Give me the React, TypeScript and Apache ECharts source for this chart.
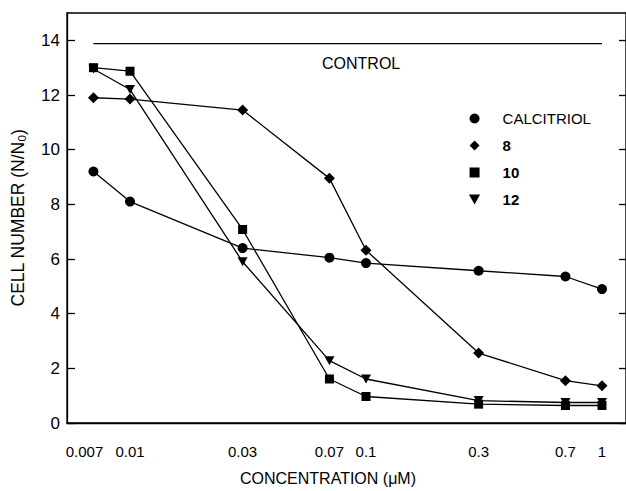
import React, { useEffect, useRef } from "react";
import * as echarts from "echarts";

const concentrations = [0.007, 0.01, 0.03, 0.07, 0.1, 0.3, 0.7, 1];
const xTickLabels = ["0.007", "0.01", "0.03", "0.07", "0.1", "0.3", "0.7", "1"];
const yTicks = [0, 2, 4, 6, 8, 10, 12, 14];
const calcitriol = [9.2, 8.1, 6.4, 6.05, 5.85, 5.57, 5.36, 4.9];
const compound8 = [11.9, 11.85, 11.45, 8.95, 6.32, 2.56, 1.55, 1.36];
const compound10 = [13.0, 12.87, 7.08, 1.61, 0.97, 0.69, 0.64, 0.64];
const compound12 = [12.95, 12.2, 5.9, 2.28, 1.61, 0.82, 0.75, 0.75];
const controlConc = [0.007, 1];
const controlLevel = [13.88, 13.88];

const FONT = "Liberation Sans, Arial, Helvetica, sans-serif";
const TRI_DOWN = "path://M0,0 L10,0 L5,9 Z";
const DIAMOND = "path://M5,0 L10,5 L5,10 L0,5 Z";
const SQUARE = "path://M0,0 L10,0 L10,10 L0,10 Z";

const toPts = (xs: number[], ys: number[]) => xs.map((c, i) => [Math.log10(c), ys[i]]);

export default function App() {
  const ref = useRef<HTMLDivElement>(null);
  useEffect(() => {
    if (!ref.current) return;
    const chart = echarts.init(ref.current, undefined, { renderer: "svg" });
    const lineStyle = { color: "#000", width: 1.3 };
    const mkSeries = (name: string, ys: number[], symbol: string, size: number | number[]) => ({
      name,
      type: "line",
      data: toPts(concentrations, ys),
      symbol,
      symbolSize: size,
      showSymbol: true,
      lineStyle,
      itemStyle: { color: "#000", borderWidth: 0 },
      z: 3,
    });
    const xLogTicks = concentrations.map((c) => Math.log10(c));
    chart.setOption({
      animation: false,
      backgroundColor: "#fff",
      textStyle: { fontFamily: FONT, color: "#000" },
      grid: {
        left: 67,
        right: 0,
        top: 13,
        bottom: 67,
        show: true,
        borderColor: "#000",
        borderWidth: 1.3,
        backgroundColor: "transparent",
      },
      xAxis: {
        type: "value",
        min: -2.267,
        max: 0.1017,
        name: "CONCENTRATION (μM)",
        nameLocation: "middle",
        nameGap: 47,
        nameTextStyle: { fontFamily: FONT, fontSize: 16, color: "#000", padding: [0, 37, 0, 0] },
        axisLine: { show: true, onZero: false, lineStyle: { color: "#000", width: 1.3 } },
        axisTick: { show: false },
        splitLine: { show: false },
        axisLabel: {
          customValues: xLogTicks,
          margin: 21,
          fontFamily: FONT,
          fontSize: 15,
          color: "#000",
          formatter: (v: number) => {
            let best = 0;
            for (let i = 1; i < xLogTicks.length; i++) {
              if (Math.abs(xLogTicks[i] - v) < Math.abs(xLogTicks[best] - v)) best = i;
            }
            return best === 0 ? "{a|" + xTickLabels[0] + "}" : xTickLabels[best];
          },
          rich: { a: { fontFamily: FONT, fontSize: 15, color: "#000", padding: [0, 18, 0, 0] } },
        },
      },
      yAxis: [
        {
          type: "value",
          min: 0,
          max: 15,
          position: "left",
          name: "CELL NUMBER (N/N{sub|0})",
          nameLocation: "middle",
          nameGap: 39,
          nameTextStyle: {
            fontFamily: FONT,
            fontSize: 17.5,
            color: "#000",
            lineHeight: 20,
            rich: { sub: { fontFamily: FONT, fontSize: 11.5, color: "#000", verticalAlign: "bottom", lineHeight: 11 } },
          },
          axisLine: { show: true, onZero: false, lineStyle: { color: "#000", width: 1.3 } },
          axisTick: { show: true, inside: true, length: 8, customValues: yTicks, lineStyle: { color: "#000", width: 1.3 } },
          splitLine: { show: false },
          axisLabel: { customValues: yTicks, margin: 7, fontFamily: FONT, fontSize: 17, color: "#000" },
        },
        {
          type: "value",
          min: 0,
          max: 15,
          position: "right",
          axisLine: { show: true, onZero: false, lineStyle: { color: "#000", width: 1.3 } },
          axisTick: { show: true, inside: true, length: 7, customValues: yTicks, lineStyle: { color: "#000", width: 1.3 } },
          splitLine: { show: false },
          axisLabel: { show: false },
        },
      ],
      legend: {
        orient: "vertical",
        left: 469,
        top: 110,
        padding: 0,
        itemWidth: 46,
        itemHeight: 10,
        itemGap: 10,
        symbolKeepAspect: true,
        selectedMode: false,
        textStyle: { fontFamily: FONT, fontSize: 15, color: "#000", lineHeight: 17 },
        data: [
          { name: "CALCITRIOL", icon: "circle", textStyle: { fontWeight: "normal" } },
          { name: "8", icon: DIAMOND, textStyle: { fontWeight: "bold" } },
          { name: "10", icon: SQUARE, textStyle: { fontWeight: "bold" } },
          { name: "12", icon: TRI_DOWN, textStyle: { fontWeight: "bold" } },
        ],
      },
      graphic: [
        {
          type: "text",
          left: 322,
          top: 55,
          style: { text: "CONTROL", fontFamily: FONT, fontSize: 16, fill: "#000" },
        },
      ],
      series: [
        {
          name: "CONTROL",
          type: "line",
          data: toPts(controlConc, controlLevel),
          symbol: "none",
          lineStyle,
          z: 2,
        },
        mkSeries("CALCITRIOL", calcitriol, "circle", 10),
        mkSeries("8", compound8, DIAMOND, 11),
        mkSeries("10", compound10, SQUARE, 9),
        mkSeries("12", compound12, TRI_DOWN, [10, 9]),
      ],
    });
    return () => chart.dispose();
  }, []);
  return (
    <div
      ref={ref}
      style={{ position: "absolute", left: 0, top: 0, width: 626, height: 491 }}
    />
  );
}
